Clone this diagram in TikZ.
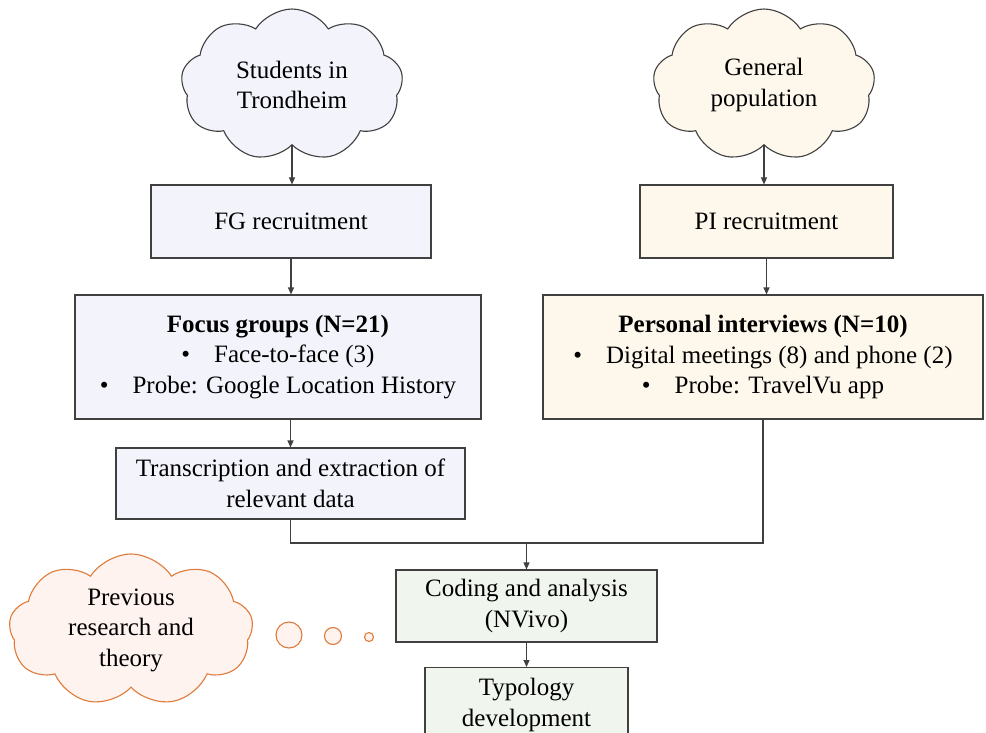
\documentclass[tikz,border=0pt]{standalone}
\usepackage{fontspec}
\setmainfont{Liberation Serif}
\usetikzlibrary{shapes.symbols,arrows.meta,positioning}
\definecolor{edgegray}{HTML}{404040}
\definecolor{lav}{HTML}{F3F3FB}
\definecolor{cream}{HTML}{FEF8EC}
\definecolor{mint}{HTML}{F0F6EE}
\definecolor{pinkfill}{HTML}{FEF3EF}
\definecolor{orangeline}{HTML}{E07B39}
\tikzset{
  txt/.style={font=\fontsize{25}{30.5}\selectfont},
  boxstyle/.style={draw=edgegray, line width=1.1pt, rectangle, align=center, inner sep=0pt, txt},
  cloudstyle/.style={draw=edgegray, line width=1.1pt, cloud, cloud puffs=9, cloud puff arc=115, cloud ignores aspect, align=center, inner sep=0pt, txt},
  conn/.style={draw=edgegray, line width=1.1pt},
  arr/.style={conn, -{Triangle[length=7pt,width=6pt]}},
}
\begin{document}
\begin{tikzpicture}[x=1pt,y=-1pt]
\clip (0,0) rectangle (986,733);
\fill[white] (0,0) rectangle (986,733);
% clouds
\node[cloudstyle, fill=lav, minimum width=222pt, minimum height=152pt] (c1) at (292,85) {Students in\\Trondheim};
\node[cloudstyle, fill=cream, minimum width=222pt, minimum height=152pt] (c2) at (764,85) {General\\population};
\node[cloudstyle, draw=orangeline, fill=pinkfill, minimum width=244pt, minimum height=152pt] (c3) at (131,630) {Previous\\research and\\theory};
% boxes
\node[boxstyle, fill=lav, minimum width=280pt, minimum height=73pt] (fg) at (291,221.5) {FG recruitment};
\node[boxstyle, fill=cream, minimum width=253pt, minimum height=73pt] (pir) at (766.5,221.5) {PI recruitment};
\node[boxstyle, fill=lav, minimum width=406pt, minimum height=124pt] (focus) at (278,357) {\textbf{Focus groups (N=21)}\\\textbullet\hspace{24pt}Face-to-face (3)\\\textbullet\hspace{24pt}Probe: Google Location History};
\node[boxstyle, fill=cream, minimum width=440pt, minimum height=124pt] (pint) at (763,357) {\textbf{Personal interviews (N=10)}\\\textbullet\hspace{24pt}Digital meetings (8) and phone (2)\\\textbullet\hspace{24pt}Probe: TravelVu app};
\node[boxstyle, fill=lav, minimum width=349pt, minimum height=71pt] (trans) at (290.5,483.5) {Transcription and extraction of\\relevant data};
\node[boxstyle, fill=mint, minimum width=261pt, minimum height=72pt] (coding) at (526.5,606) {Coding and analysis\\(NVivo)};
\node[boxstyle, fill=mint, minimum width=203pt, minimum height=80pt, anchor=north] (typo) at (526.5,667) {};
\node[txt, align=center, inner sep=0pt, anchor=north] (typot) at (526.5,678) {Typology\\development};
% thought bubbles
\node[draw=orangeline, line width=1.1pt, fill=pinkfill, circle, minimum size=26pt, inner sep=0pt] (b1) at (289,635) {};
\node[draw=orangeline, line width=1.1pt, fill=pinkfill, circle, minimum size=17pt, inner sep=0pt] (b2) at (333,636) {};
\node[draw=orangeline, line width=1.1pt, fill=pinkfill, circle, minimum size=9pt, inner sep=0pt] (b3) at (369,637) {};
% connectors
\coordinate (j) at (526.5,543);
\draw[arr] (c1.south) -- (fg.north -| c1.south);
\draw[arr] (c2.south) -- (pir.north -| c2.south);
\draw[arr] (fg.south) -- (focus.north -| fg.south);
\draw[arr] (pir.south) -- (pint.north -| pir.south);
\draw[arr] (focus.south -| trans.north) -- (trans.north);
\draw[conn] (trans.south) |- (j) -| (pint.south);
\draw[arr] (j) -- (coding.north);
\draw[arr] (coding.south) -- (typo.north);
\end{tikzpicture}
\end{document}
